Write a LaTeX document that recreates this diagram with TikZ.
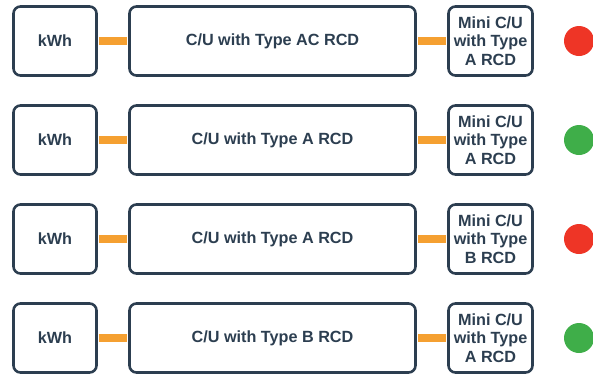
\documentclass[tikz,border=0pt]{standalone}
\usepackage{fontspec}
\setmainfont{Liberation Sans}

\definecolor{navy}{HTML}{2C3E50}
\definecolor{wire}{HTML}{F5A031}
\definecolor{stopred}{HTML}{EE3526}
\definecolor{gogreen}{HTML}{3FAE49}

\begin{document}
\begin{tikzpicture}[x=1pt,y=-1pt,
    unitbox/.style={draw=navy,line width=2.6pt,rounded corners=7pt,minimum height=69pt,
        inner sep=0pt,text=navy,align=center,font=\bfseries\fontsize{16.2}{18.3}\selectfont},
    feed/.style={draw=wire,line width=8.5pt,shorten <=1.3pt,shorten >=1.3pt},
    lamp/.style={circle,minimum size=30pt,inner sep=0pt}]
    \useasboundingbox (0,0) rectangle (593,376);
    \foreach \i/\cu/\mini/\col in {0/AC/A/stopred,1/A/A/gogreen,2/A/B/stopred,3/B/A/gogreen}{
        \node[unitbox,minimum width=83pt] (kwh\i) at (55,41+99*\i) {kWh};
        \node[unitbox,minimum width=286pt] (cu\i) at (272.5,41+99*\i) {C/U with Type \cu\ RCD};
        \node[unitbox,minimum width=84pt] (mini\i) at (490.5,41+99*\i) {Mini C/U\\with Type\\\mini\ RCD};
        \node[lamp,fill=\col] (lamp\i) at (579,41+99*\i) {};
        \draw[feed] (kwh\i.east) -- (cu\i.west);
        \draw[feed] (cu\i.east) -- (mini\i.west);
    }
\end{tikzpicture}
\end{document}
